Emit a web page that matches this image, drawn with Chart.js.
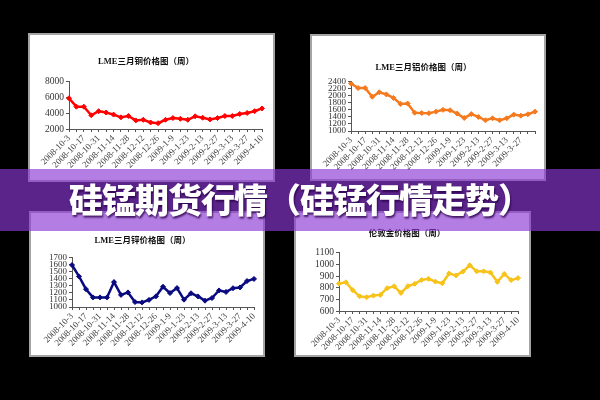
<!DOCTYPE html>
<html lang="zh-CN">
<head>
<meta charset="UTF-8">
<title>硅锰期货行情</title>
<script src="https://cdn.jsdelivr.net/npm/chart.js"></script>
<style>
  html, body { margin: 0; padding: 0; background: #000; }
  #stage { position: relative; width: 600px; height: 400px; overflow: hidden; background: #000; }
  .panel { position: absolute; background: #fff; border: 2px solid #a4a4a4; box-sizing: border-box; }
  canvas.chart { position: absolute; }
  #banner {
    position: absolute; left: 0; top: 169px; width: 600px; height: 62px;
    background: rgba(140, 56, 214, 0.65);
  }
  #banner span {
    position: absolute; left: 0; width: 600px; top: 10px; text-align: center;
    font-family: "Noto Sans CJK SC", sans-serif; font-weight: 900; font-size: 34px;
    color: #fff; letter-spacing: -1px; line-height: 40px;
    text-shadow: 1px 2px 2px rgba(40, 0, 70, 0.8);
  }
</style>
</head>
<body>
<div id="stage">
  <div class="panel" style="left:28px;top:33px;width:247px;height:149px"></div>
  <div class="panel" style="left:310px;top:34px;width:236px;height:147px"></div>
  <div class="panel" style="left:29px;top:211px;width:236px;height:146px"></div>
  <div class="panel" style="left:294px;top:211px;width:237px;height:146px"></div>

  <canvas class="chart" id="copper" width="247" height="149" style="left:28px;top:33px"></canvas>
  <canvas class="chart" id="aluminium" width="236" height="147" style="left:310px;top:34px"></canvas>
  <canvas class="chart" id="zinc" width="236" height="146" style="left:29px;top:211px"></canvas>
  <canvas class="chart" id="gold" width="237" height="146" style="left:294px;top:211px"></canvas>

  <div id="banner"><span>硅锰期货行情（硅锰行情走势）</span></div>
</div>

<script>
// weekly dates (every other one is printed on the axis)
const weeks = ['2008-10-3', '2008-10-10', '2008-10-17', '2008-10-24', '2008-10-31', '2008-11-7',
  '2008-11-14', '2008-11-21', '2008-11-28', '2008-12-5', '2008-12-12', '2008-12-19', '2008-12-26',
  '2009-1-2', '2009-1-9', '2009-1-16', '2009-1-23', '2009-2-6', '2009-2-13', '2009-2-20',
  '2009-2-27', '2009-3-6', '2009-3-13', '2009-3-20', '2009-3-27', '2009-4-3', '2009-4-10'];

const copper = [5900, 4830, 4830, 3740, 4260, 4090, 3830, 3480, 3650, 3090, 3170, 2830, 2740, 3170,
  3390, 3300, 3170, 3610, 3430, 3220, 3390, 3650, 3650, 3910, 4040, 4260, 4610];
const aluminium = [2350, 2220, 2220, 1970, 2100, 2040, 1940, 1770, 1780, 1520, 1510, 1505, 1550, 1600,
  1590, 1495, 1370, 1480, 1400, 1305, 1360, 1305, 1360, 1465, 1435, 1475, 1550];
const zinc = [1590, 1430, 1250, 1135, 1135, 1135, 1350, 1170, 1205, 1070, 1065, 1100, 1150, 1285,
  1196, 1266, 1103, 1193, 1149, 1089, 1126, 1233, 1212, 1264, 1275, 1365, 1395];
const gold = [835, 846, 779, 726, 718, 732, 738, 796, 812, 755, 813, 833, 866, 876, 852, 838, 922,
  905, 938, 992, 940, 940, 930, 850, 918, 865, 882];

// y axis: min, max, step
const copperTicks = [2000, 8000, 2000];
const aluminiumTicks = [1000, 2400, 200];
const zincTicks = [1000, 1700, 100];
const goldTicks = [600, 1100, 100];

const serif = "'Liberation Serif', 'Times New Roman', serif";
const cjk = "'Liberation Serif', 'Noto Sans CJK SC', serif";

function makeChart(id, title, values, color, ticks, box) {
  const ctx = document.getElementById(id).getContext('2d');
  return new Chart(ctx, {
    type: 'line',
    data: {
      labels: weeks,
      datasets: [{
        data: values,
        borderColor: color,
        backgroundColor: color,
        borderWidth: 2.5,
        pointStyle: 'rectRot',
        pointRadius: 2.5,
        pointBorderWidth: 1,
        tension: 0
      }]
    },
    options: {
      responsive: false,
      animation: false,
      layout: { padding: { left: 2, right: box.right, top: 0, bottom: 0 } },
      plugins: {
        legend: { display: false },
        tooltip: { enabled: false },
        title: {
          display: true,
          text: title,
          color: '#111',
          font: { family: cjk, size: 8.5, weight: 'bold' },
          padding: { top: box.titleTop, bottom: box.titleBottom }
        }
      },
      scales: {
        x: {
          offset: false,
          afterFit: s => { s.height = box.xHeight; },
          grid: { drawOnChartArea: false, tickLength: 3, color: '#555' },
          border: { display: true, color: '#555', width: 1 },
          ticks: {
            autoSkip: false,
            minRotation: 45,
            maxRotation: 45,
            padding: 1,
            color: '#444',
            font: { family: serif, size: 9 },
            callback: (v, i) => (i % 2 || i > box.lastLabel) ? '' : weeks[i]
          }
        },
        y: {
          min: ticks[0],
          max: ticks[1],
          afterFit: s => { s.width = box.yWidth; },
          grid: { drawOnChartArea: false, tickLength: 3, color: '#555' },
          border: { display: true, color: '#555', width: 1 },
          ticks: {
            stepSize: ticks[2],
            autoSkip: false,
            padding: 2,
            color: '#333',
            font: { family: serif, size: box.yFont },
            callback: v => String(v)
          }
        }
      }
    }
  });
}

makeChart('copper', 'LME三月铜价格图（周）', copper, '#ff0000', copperTicks,
  { right: 13, yWidth: 39, titleTop: 24, titleBottom: 14.5, xHeight: 53, lastLabel: 26, yFont: 9.5 });
makeChart('aluminium', 'LME三月铝价格图（周）', aluminium, '#f47a1f', aluminiumTicks,
  { right: 11, yWidth: 39, titleTop: 29, titleBottom: 8.5, xHeight: 50, lastLabel: 24, yFont: 9 });
makeChart('zinc', 'LME三月锌价格图（周）', zinc, '#0a0a80', zincTicks,
  { right: 11, yWidth: 41, titleTop: 25, titleBottom: 11, xHeight: 50, lastLabel: 26, yFont: 9 });
makeChart('gold', '伦敦金价格图（周）', gold, '#f7c31a', goldTicks,
  { right: 13, yWidth: 43, titleTop: 18, titleBottom: 13.5, xHeight: 46, lastLabel: 26, yFont: 9.5 });
</script>
</body>
</html>
